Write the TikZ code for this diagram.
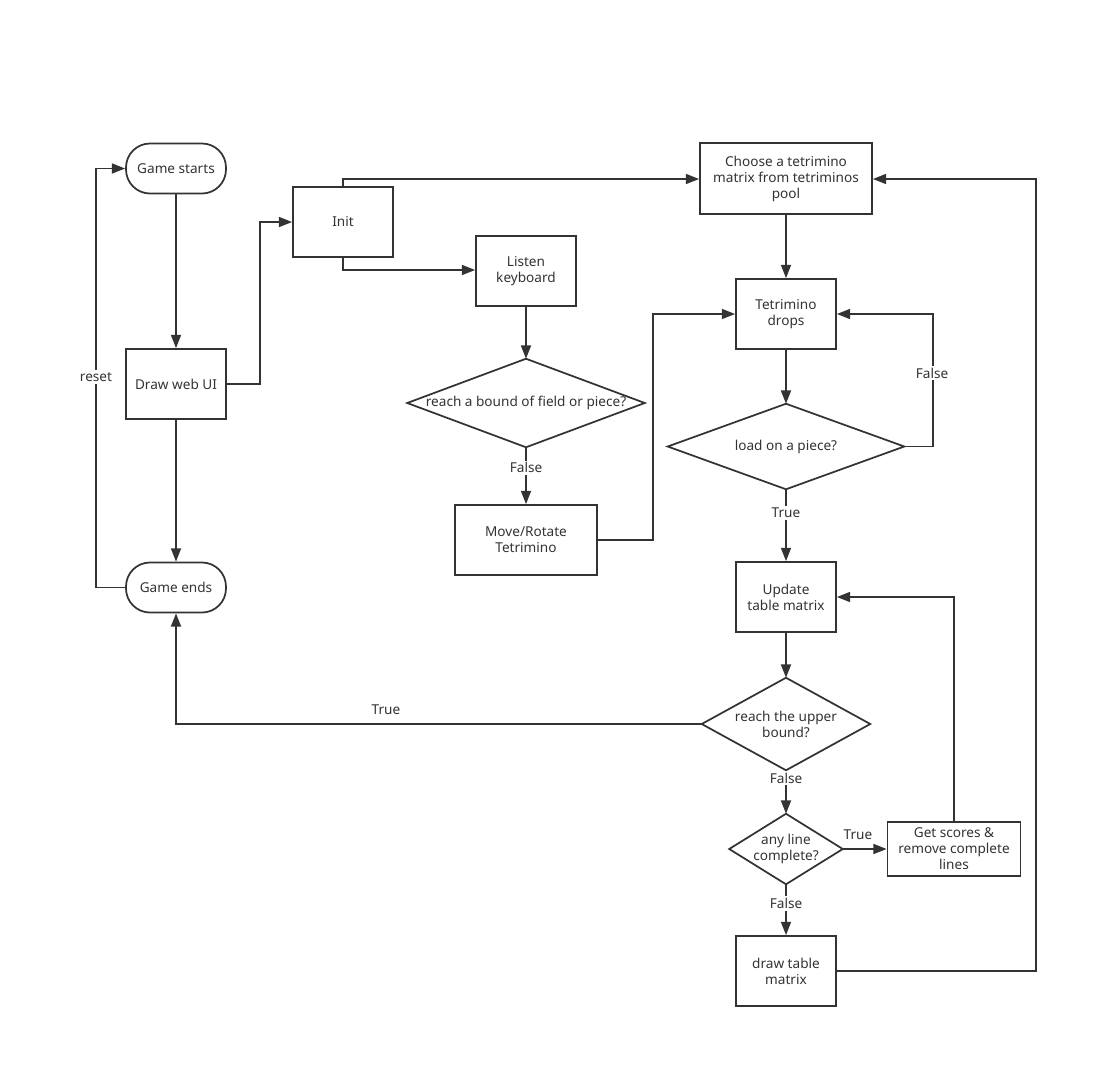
\documentclass[tikz,border=0pt]{standalone}
\usepackage{fontspec}
\setmainfont{Noto Sans}
\usetikzlibrary{arrows.meta}
\definecolor{ink}{HTML}{333333}
\tikzset{
  txt/.style={font=\fontsize{10.2}{12}\selectfont, text=ink},
  box/.style 2 args={draw=ink, line width=1.3pt, minimum width=#1*0.75pt, minimum height=#2*0.75pt, inner sep=0pt, align=center, txt},
  term/.style={box={100}{50}, rounded corners=18pt},
  dia/.style 2 args={draw=none, minimum width=#1*0.75pt, minimum height=#2*0.75pt, inner sep=0pt, align=center, txt},
  diaborder/.style={draw=ink, line width=1.3pt, line join=miter},
  conn/.style={draw=ink, line width=1.3pt, -{Triangle[length=10pt,width=7.5pt]}},
  lbl/.style={fill=white, inner sep=1.5pt, txt},
}
\begin{document}
\begin{tikzpicture}[x=0.75pt, y=-0.75pt]
\useasboundingbox (0,0) rectangle (1097,1068);
\fill[white] (0,0) rectangle (1097,1068);

% nodes
\node[term] (start) at (176,168.5) {Game starts};
\node[box={100}{70}] (ui) at (176,384) {Draw web UI};
\node[term] (ends) at (176,587.5) {Game ends};
\node[box={100}{70}] (init) at (343,222) {Init};
\node[box={100}{70}] (listen) at (526,271) {Listen\\keyboard};
\node[dia={237}{88}] (bound) at (526,403) {reach a bound of field or piece?};
\node[box={142}{70}] (move) at (526,540) {Move/Rotate\\Tetrimino};
\node[box={172}{71}] (choose) at (786,178.5) {Choose a tetrimino\\matrix from tetriminos\\pool};
\node[box={100}{70}] (drops) at (786,314) {Tetrimino\\drops};
\node[dia={236}{85}] (load) at (786,446.5) {load on a piece?};
\node[box={100}{70}] (update) at (786,597) {Update\\table matrix};
\node[dia={168}{92}] (upper) at (786,724) {reach the upper\\bound?};
\node[dia={113}{70}] (anyline) at (786,849) {any line\\complete?};
\node[box={133}{54}] (scores) at (954,849) {Get scores \&\\remove complete\\lines};
\node[box={100}{70}] (drawtab) at (786,971) {draw table\\matrix};

% diamond outlines
\foreach \d in {bound,load,upper,anyline}
  \draw[diaborder] (\d.north) -- (\d.east) -- (\d.south) -- (\d.west) -- cycle;

% connectors
\draw[conn] (start) -- (ui);
\draw[conn] (ui) -- (ends);
\draw[conn] (ends.west) -- (96,587.5) -- (96,168.5) -- (start.west);
\node[lbl] (reset) at (96,377) {reset};
\draw[conn] (ui.east) -- (260,384) -- (260,222) -- (init.west);
\draw[conn] (init.north) -- (343,179) -- (choose.west |- 0,179);
\draw[conn] (init.south) -- (343,270) -- (listen.west |- 0,270);
\draw[conn] (listen) -- (bound.north);
\draw[conn] (bound.south) -- (move.north) node[lbl, pos=0.36] {False};
\draw[conn] (move.east) -- (653,540) -- (653,314) -- (drops.west);
\draw[conn] (choose) -- (drops);
\draw[conn] (drops) -- (load.north);
\draw[conn] (load.east) -- (933,446.5) -- (933,314) -- (drops.east);
\node[lbl] at (932,373) {False};
\draw[conn] (load.south) -- (update.north) node[lbl, pos=0.33] {True};
\draw[conn] (update) -- (upper.north);
\draw[conn] (upper.west) -- (176,724) -- (ends.south);
\node[txt] at (386,710) {True};
\draw[conn] (upper.south) -- (anyline.north) node[lbl, pos=0.18] {False};
\draw[conn] (anyline.east) -- (scores.west);
\node[txt] at (858,835) {True};
\draw[conn] (scores.north) -- (954,597) -- (update.east);
\draw[conn] (anyline.south) -- (drawtab.north) node[lbl, pos=0.38] {False};
\draw[conn] (drawtab.east) -- (1036,971) -- (1036,179) -- (choose.east |- 0,179);
\end{tikzpicture}
\end{document}
